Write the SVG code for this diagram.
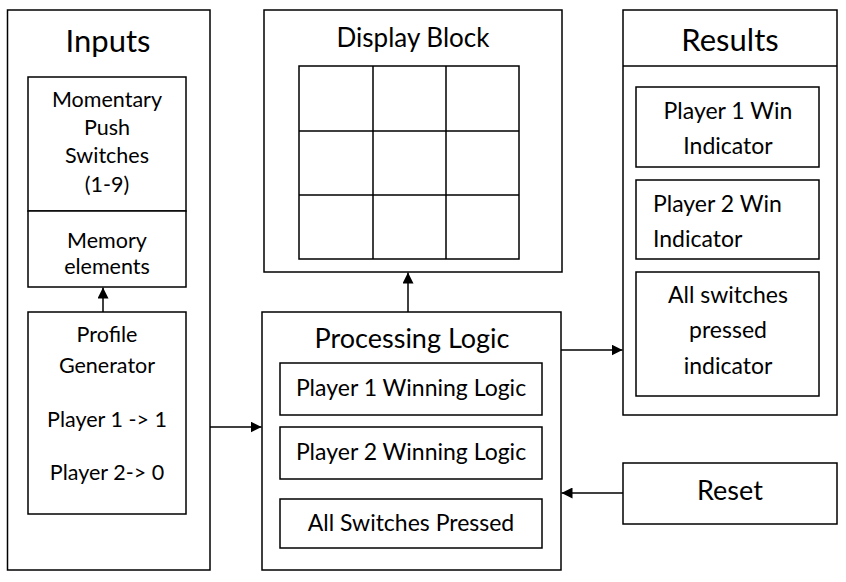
<svg xmlns="http://www.w3.org/2000/svg" width="846" height="582" viewBox="0 0 846 582">
  <style>
    .box { fill: #fff; stroke: #000; stroke-width: 1.5; }
    .grid { fill: none; stroke: #000; stroke-width: 1.5; }
    text { font-family: Lato, "Liberation Sans", sans-serif; fill: #000; }
    .title { font-size: 27px; text-anchor: middle; }
    .head { font-size: 31px; text-anchor: middle; }
    .body { font-size: 21.5px; text-anchor: middle; }
    .big { font-size: 23px; text-anchor: middle; }
    .left { font-size: 23px; text-anchor: start; }
    .wire { fill: none; stroke: #000; stroke-width: 1.5; marker-end: url(#arrow); }
  </style>
  <defs>
    <marker id="arrow" markerUnits="userSpaceOnUse" markerWidth="11" markerHeight="11" refX="11" refY="5.5" orient="auto">
      <path d="M0,0 L11,5.5 L0,11 z" fill="#000"/>
    </marker>
  </defs>
  <rect width="846" height="582" fill="#fff"/>

  <!-- Inputs block -->
  <g id="inputs">
    <rect class="box" x="7.5" y="10" width="202.5" height="560"/>
    <text class="head" x="108" y="52">Inputs</text>
  </g>
  <g id="switches">
    <rect class="box" x="28" y="77" width="158" height="134"/>
    <text class="body" x="107" y="107">Momentary</text>
    <text class="body" x="107" y="135">Push</text>
    <text class="body" x="107" y="163">Switches</text>
    <text class="body" x="107" y="192">(1-9)</text>
  </g>
  <g id="memory">
    <rect class="box" x="28" y="211" width="158" height="76"/>
    <text class="body" x="107" y="248">Memory</text>
    <text class="body" x="107" y="274">elements</text>
  </g>
  <g id="profile">
    <rect class="box" x="28" y="312" width="158" height="202"/>
    <text class="body" x="107" y="342">Profile</text>
    <text class="body" x="107" y="373">Generator</text>
    <text class="body" x="107" y="427">Player 1 -&gt; 1</text>
    <text class="body" x="107" y="480">Player 2-&gt; 0</text>
  </g>

  <!-- Display block with 3x3 grid -->
  <g id="display">
    <rect class="box" x="264" y="10" width="298" height="262"/>
    <text class="title" x="413" y="47" style="font-size:26px">Display Block</text>
    <rect class="grid" x="299" y="66" width="220" height="193"/>
    <path class="grid" d="M373,66 V259 M446,66 V259 M299,131 H519 M299,195 H519"/>
  </g>

  <!-- Processing logic -->
  <g id="processing">
    <rect class="box" x="262" y="312" width="299" height="258"/>
    <text class="title" x="412" y="348">Processing Logic</text>
  </g>
  <g id="p1logic">
    <rect class="box" x="280" y="363" width="262" height="52"/>
    <text class="big" x="411" y="396">Player 1 Winning Logic</text>
  </g>
  <g id="p2logic">
    <rect class="box" x="280" y="427" width="262" height="52"/>
    <text class="big" x="411" y="460">Player 2 Winning Logic</text>
  </g>
  <g id="allpressed">
    <rect class="box" x="280" y="499" width="262" height="49"/>
    <text class="big" x="411" y="531">All Switches Pressed</text>
  </g>

  <!-- Results -->
  <g id="results">
    <rect class="box" x="623" y="10" width="214" height="405"/>
    <line x1="623" y1="66" x2="837" y2="66" stroke="#000" stroke-width="1.5"/>
    <text class="head" x="730" y="51">Results</text>
  </g>
  <g id="p1win">
    <rect class="box" x="636" y="87" width="183" height="80"/>
    <text class="big" x="728" y="119">Player 1 Win</text>
    <text class="big" x="728" y="154">Indicator</text>
  </g>
  <g id="p2win">
    <rect class="box" x="636" y="180" width="183" height="79"/>
    <text class="left" x="653" y="212">Player 2 Win</text>
    <text class="left" x="653" y="247">Indicator</text>
  </g>
  <g id="allind">
    <rect class="box" x="636" y="272" width="183" height="124"/>
    <text class="big" x="728" y="303">All switches</text>
    <text class="big" x="728" y="338">pressed</text>
    <text class="big" x="728" y="374">indicator</text>
  </g>

  <!-- Reset -->
  <g id="reset">
    <rect class="box" x="623" y="463" width="214" height="61"/>
    <text class="title" x="730" y="500">Reset</text>
  </g>

  <!-- Connectors -->
  <g id="connectors">
    <line class="wire" x1="103" y1="312" x2="103" y2="287.5"/>
    <line class="wire" x1="210" y1="427" x2="261.5" y2="427"/>
    <line class="wire" x1="408" y1="312" x2="408" y2="272.5"/>
    <line class="wire" x1="561" y1="350" x2="622.5" y2="350"/>
    <line class="wire" x1="623" y1="493" x2="561.5" y2="493"/>
  </g>
</svg>
